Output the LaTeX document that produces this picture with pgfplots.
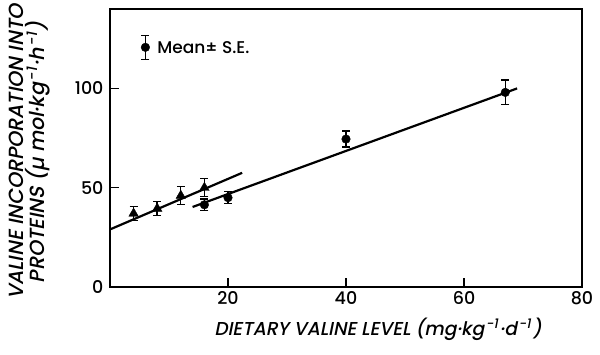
\documentclass[border=0pt]{standalone}
\usepackage{pgfplots}
\pgfplotsset{compat=1.18}
\usepackage{fontspec}
\setmainfont{Poppins Medium}
\newfontfamily\labelfont[FakeSlant=0.2]{Poppins Medium}
\newcommand{\sups}[1]{\kern1.6pt\textsuperscript{#1}\kern1.2pt}
\begin{document}
\begin{tikzpicture}[x=1pt,y=1pt]
\path[use as bounding box] (-110,-67) rectangle (490,287);
\begin{axis}[
  at={(0,0)}, anchor=south west,
  scale only axis, width=472pt, height=278pt,
  xmin=0, xmax=80, ymin=0, ymax=140,
  xtick={20,40,60,80}, ytick={0,50,100},
  tick align=inside, xtick pos=bottom, ytick pos=left,
  major tick length=9pt,
  tick style={line width=1.4pt, black},
  ticklabel style={font=\fontsize{17.5}{17.5}\selectfont},
  /pgf/number format/assume math mode=true,
  xticklabel style={yshift=-1pt},
  yticklabel style={xshift=-3pt},
  clip=false,
]
\draw[line width=1.6pt] (rel axis cs:0,0) rectangle (rel axis cs:1,1);
% regression lines
\addplot[black, line width=2.2pt, no marks] coordinates {(0,29) (22.4,57.5)};
\addplot[black, line width=2.2pt, no marks] coordinates {(14,40.3) (69,100)};
% triangles
\addplot[black, only marks, mark=triangle*, mark size=5.5pt,
  error bars/.cd, y dir=both, y explicit,
  error bar style={line width=1.4pt, black},
  error mark options={rotate=90, mark size=4pt, line width=1.4pt, black}]
  coordinates {
  (4,37) +- (0,3.5)
  (8,39.5) +- (0,3.5)
  (12,46) +- (0,4.5)
  (16,50) +- (0,4.5)
  };
% circles
\addplot[black, only marks, mark=*, mark size=4.3pt,
  error bars/.cd, y dir=both, y explicit,
  error bar style={line width=1.4pt, black},
  error mark options={rotate=90, mark size=4pt, line width=1.4pt, black}]
  coordinates {
  (16,41.4) +- (0,3)
  (20,45) +- (0,3)
  (40,74.5) +- (0,4)
  (67,98) +- (0,6.2)
  };
% legend sample
\addplot[black, only marks, mark=*, mark size=4.3pt,
  error bars/.cd, y dir=both, y explicit,
  error bar style={line width=1.4pt, black},
  error mark options={rotate=90, mark size=4pt, line width=1.4pt, black}]
  coordinates {(6,120.7) +- (0,6)};
\node[anchor=west, font=\fontsize{17}{17}\selectfont, inner sep=0pt] at (axis cs:8,120.7) {Mean± S.E.};
\end{axis}
\node[rotate=90, align=center, font=\labelfont\fontsize{20.5}{21}\selectfont] at (-80,135)
  {VALINE INCORPORATION INTO\\PROTEINS (µ mol·kg\sups{-1}·h\sups{-1})};
\node[font=\labelfont\fontsize{18.7}{21}\selectfont] at (268,-42)
  {DIETARY VALINE LEVEL (mg·kg\sups{-1}·d\sups{-1})};
\end{tikzpicture}
\end{document}
